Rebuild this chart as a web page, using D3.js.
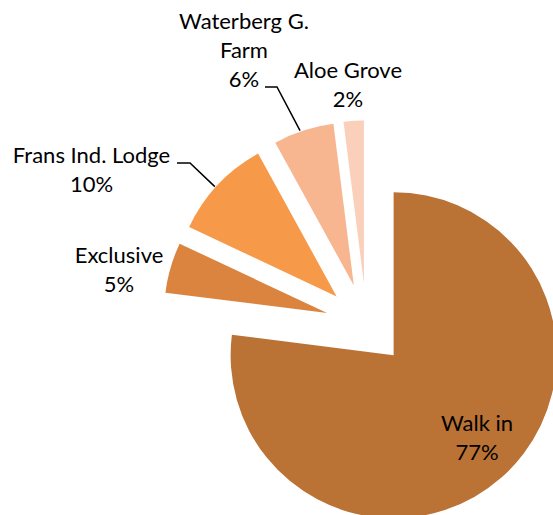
<!DOCTYPE html>
<html>
<head>
<meta charset="utf-8">
<script src="https://cdn.jsdelivr.net/npm/d3@7"></script>
<style>
  html, body { margin: 0; padding: 0; background: #fff; }
  svg { display: block; }
  text { font-family: Lato, "Open Sans", sans-serif; fill: #000; }
</style>
</head>
<body>
<svg id="chart" width="553" height="515"></svg>
<script>
// ---- data ----
const categories = ["Walk in", "Exclusive", "Frans Ind. Lodge", "Waterberg G. Farm", "Aloe Grove"];
const values = [77, 5, 10, 6, 2];
const labelLines = [["Walk in"], ["Exclusive"], ["Frans Ind. Lodge"], ["Waterberg G.", "Farm"], ["Aloe Grove"]];
const colors = ["#BA7235", "#DA843F", "#F69A4A", "#F7B590", "#FAD0BB"];

// ---- layout ----
const W = 553, H = 515;
const cx = 366.5, cy = 324.5, R = 163, explode = 41;
const fontSize = 22, lineH = 29;
// label anchor (center x, baseline y of first line) and leader lines (line index the leader attaches to)
const labelPos = [
  {x: 477, y: 430.5, leader: null},
  {x: 119, y: 262.5, leader: null},
  {x: 91.5, y: 163, leader: {x0: 177, x1: 190, line: 0}},
  {x: 244, y: 29, leader: {x0: 265, x1: 277, line: 2}},
  {x: 348, y: 77.5, leader: null}
];

const svg = d3.select("#chart");
const total = d3.sum(values);
const pie = d3.pie().sort(null).value(d => d)(values);
const arc = d3.arc().innerRadius(0).outerRadius(R);

const g = svg.append("g").attr("transform", `translate(${cx},${cy})`);

function offset(d) {
  const m = (d.startAngle + d.endAngle) / 2;
  return [explode * Math.sin(m), -explode * Math.cos(m)];
}

g.selectAll("path.slice")
  .data(pie)
  .join("path")
  .attr("class", "slice")
  .attr("d", arc)
  .attr("fill", (d, i) => colors[i])
  .attr("transform", d => { const o = offset(d); return `translate(${o[0]},${o[1]})`; });

// labels
pie.forEach((d, i) => {
  const p = labelPos[i];
  const lines = labelLines[i].concat([Math.round(values[i] / total * 100) + "%"]);
  const t = svg.append("text")
    .attr("text-anchor", "middle")
    .attr("font-size", fontSize);
  lines.forEach((ln, k) => {
    t.append("tspan").attr("x", p.x).attr("y", p.y + k * lineH).text(ln);
  });
  if (p.leader) {
    const m = (d.startAngle + d.endAngle) / 2 - 0.02;
    const o = offset(d);
    const ex = cx + o[0] + (R + 1) * Math.sin(m);
    const ey = cy + o[1] - (R + 1) * Math.cos(m);
    const ly = p.y + p.leader.line * lineH;
    svg.append("polyline")
      .attr("points", `${p.leader.x0},${ly} ${p.leader.x1},${ly} ${ex},${ey}`)
      .attr("fill", "none")
      .attr("stroke", "#000")
      .attr("stroke-width", 1.5);
  }
});
</script>
</body>
</html>
